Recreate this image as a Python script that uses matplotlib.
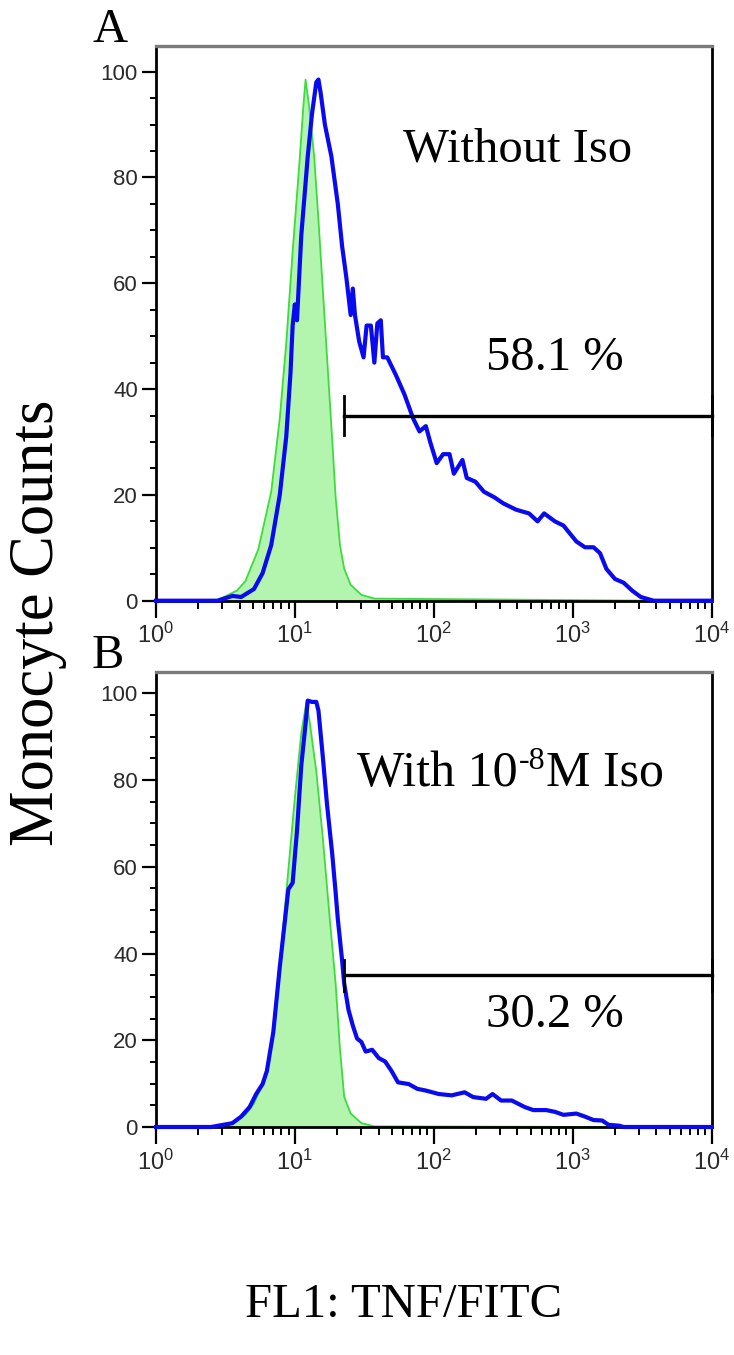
import numpy as np
import matplotlib
matplotlib.use("Agg")
import matplotlib.pyplot as plt
from matplotlib.ticker import LogLocator, MultipleLocator, NullFormatter, LogFormatterSciNotation

# ---------------- data ----------------
# Panel A (without Iso)
a_blue_x = [1.0, 2.77, 3.55, 4.10, 5.07, 5.85, 6.75, 7.78, 8.66, 9.29, 9.63, 9.98, 10.35, 11.11, 12.37,
            13.27, 14.25, 14.77, 15.31, 16.43, 18.29, 20.35, 21.86, 23.47, 25.19, 26.1, 27.05,
            29.0, 31.2, 32.8, 35.2, 37.3, 39.2, 41.5, 43.0, 46.2, 53.2, 61.4, 70.8, 78.8, 87.6, 94.1,
            104.8, 116.6, 129.7, 139.3, 160.6, 172.5, 198.9, 229.3, 274.2, 316, 391, 484, 558, 622,
            743, 857, 1061, 1223, 1410, 1570, 1747, 2014, 2322, 2677, 3088, 3823, 10000]
a_blue_y = [0, 0, 0.9, 0.7, 2.2, 5.2, 10.5, 20, 31, 43, 52, 56, 53, 69, 84,
            92, 98, 98.5, 96, 90, 84, 75, 67, 61, 54, 59, 54,
            49, 46, 52, 52, 45, 52.4, 53, 46, 46, 42.7, 39, 34.5, 32, 33, 30,
            26, 27.7, 27.7, 24, 26.6, 23.2, 22.5, 20.6, 19.5, 18.4, 17.2, 16.5, 15, 16.5,
            15, 14.2, 11.2, 10.1, 10.1, 9, 6, 4.1, 3.4, 1.9, 0.7, 0, 0]
a_green_x = [2.67, 3.08, 3.82, 4.40, 5.45, 6.75, 7.78, 8.66, 9.63, 10.72, 11.51, 11.93, 12.63, 13.75,
             14.77, 15.86, 17.03, 18.29, 19.64, 21.09, 22.65, 25.19, 30.1, 37.3, 3823]
a_green_y = [0, 0.7, 1.9, 3.7, 9.7, 20.6, 34.5, 48.7, 66, 82, 93.6, 98.5, 93.6, 84,
             72, 59, 46, 33, 19.5, 10.5, 6, 3, 1.1, 0.4, 0]

# Panel B (with 1e-8 M Iso)
b_blue_x = [1.0, 2.49, 3.43, 3.55, 4.10, 4.72, 5.26, 5.85, 6.28, 6.99, 7.78, 8.35, 8.97, 9.63, 10.35,
            11.11, 11.93, 12.37, 13.27, 14.25, 14.77, 15.86, 17.03, 18.55, 19.64, 20.35, 21.86, 22.65,
            24.3, 26.1, 28.0, 30.1, 32.3, 36.0, 40.1, 44.6, 49.6, 55.2, 65.9, 76.0, 87.6, 108.6,
            134.4, 166.4, 191.9, 237.6, 264.4, 304.9, 364.1, 451, 520, 644, 743, 857, 1061, 1223,
            1410, 1626, 1811, 2161, 2322, 10000]
b_blue_y = [0, 0, 0.8, 0.9, 2.4, 4.6, 7.6, 9.9, 12.9, 21.9, 36.9, 45.8, 54.8, 56.3, 68.3,
            83.3, 93, 98.3, 98, 98, 96, 85.5, 74.3, 63, 54, 48, 38.4, 33,
            27, 23.4, 20.4, 19.6, 17.4, 17.8, 15.9, 15.1, 12.9, 10.3, 9.9, 8.8, 8.4, 7.6,
            7.3, 8.0, 6.9, 6.5, 7.6, 6.1, 6.1, 4.6, 3.9, 3.9, 3.5, 2.8, 3.1, 2.4,
            1.6, 1.5, 0.5, 0.3, 0, 0]
b_green_x = [3.08, 3.55, 4.40, 5.07, 5.85, 6.51, 7.24, 8.06, 8.97, 9.98, 11.11, 12.10, 12.82, 14.25,
             15.86, 17.63, 19.64, 21.09, 22.65, 25.19, 30.1, 37.3, 2322]
b_green_y = [0, 0.9, 2.8, 5.4, 9.9, 14.4, 27, 42.8, 59.3, 75.8, 90.8, 98, 93, 82,
             66.8, 49.6, 33, 18, 6.9, 3.1, 0.9, 0.15, 0]

panel_letters = ["A", "B"]
condition_a = "Without Iso"
condition_b_parts = ["With 10", "-8", "M Iso"]
gate_percent = ["58.1 %", "30.2 %"]
gate_start = [22.6, 22.6]
gate_end = [10000, 10000]
gate_level = [35, 35]
x_label = "FL1: TNF/FITC"
y_label = "Monocyte Counts"

# ---------------- style ----------------
plt.rcParams['mathtext.fontset'] = 'custom'
plt.rcParams['mathtext.rm'] = 'Liberation Sans'
plt.rcParams['mathtext.it'] = 'Liberation Sans:italic'
plt.rcParams['font.family'] = ['Liberation Sans', 'DejaVu Sans']

W, H = 734, 1355
fig = plt.figure(figsize=(W / 100, H / 100), dpi=100)

def fx(px):
    return px / W

def fy(py):
    return 1 - py / H

axes_px = [(156, 45.7, 711.7, 600.7), (156, 672, 711.7, 1127)]

BLUE = "#0a0af0"
GREEN_EDGE = "#3ddc3d"
GREEN_FILL = "#b3f5ae"
SERIF = ['Liberation Serif', 'DejaVu Serif']

panels = [
    (a_blue_x, a_blue_y, a_green_x, a_green_y),
    (b_blue_x, b_blue_y, b_green_x, b_green_y),
]

for i, (l, t, r, b) in enumerate(axes_px):
    ax = fig.add_axes([fx(l), fy(b), fx(r) - fx(l), fy(t) - fy(b)])
    bx, by, gx, gy = panels[i]
    ax.fill_between(gx, 0, gy, facecolor=GREEN_FILL, edgecolor='none', zorder=1)
    ax.plot(gx, gy, color=GREEN_EDGE, lw=1.3, zorder=2, clip_on=False)
    ax.plot(bx, by, color=BLUE, lw=3.0, zorder=4, clip_on=False, solid_joinstyle='round')

    # gate bar
    ax.plot([gate_start[i], gate_end[i]], [gate_level[i], gate_level[i]], color='black', lw=2.4,
            zorder=5, clip_on=False)
    for gxv in (gate_start[i], gate_end[i]):
        ax.plot([gxv, gxv], [gate_level[i] - 3.6, gate_level[i] + 3.6], color='black', lw=2.0,
                zorder=5, clip_on=False)

    ax.set_xscale('log')
    ax.set_xlim(1, 10000)
    ax.set_ylim(0, 104.9)
    ax.xaxis.set_major_locator(LogLocator(base=10, numticks=10))
    ax.xaxis.set_minor_locator(LogLocator(base=10, subs=np.arange(2, 10), numticks=20))
    ax.xaxis.set_minor_formatter(NullFormatter())
    ax.xaxis.set_major_formatter(LogFormatterSciNotation())
    ax.yaxis.set_major_locator(MultipleLocator(20))
    ax.yaxis.set_minor_locator(MultipleLocator(5))

    ax.tick_params(axis='both', which='major', direction='out', width=1.6, colors='black',
                   labelcolor='#2a2a2a', labelsize=16)
    ax.tick_params(axis='y', which='major', length=10, pad=3)
    ax.tick_params(axis='x', which='major', length=12, pad=4, labelsize=17)
    ax.tick_params(axis='y', which='minor', direction='out', length=4, width=1.4)
    ax.tick_params(axis='x', which='minor', direction='out', length=6, width=1.4)

    for side in ('left', 'bottom', 'right'):
        ax.spines[side].set_linewidth(2.0)
        ax.spines[side].set_color('black')
    ax.spines['top'].set_linewidth(2.4)
    ax.spines['top'].set_color('#7a7a7a')

for i, (cx, cy) in enumerate([(110, 30), (108, 656)]):
    fig.text(fx(cx), fy(cy), panel_letters[i], ha='center', va='center', fontsize=35,
             family=SERIF)

fig.text(fx(518), fy(150), condition_a, ha='center', va='center', fontsize=35, family=SERIF)

# "With 10^-8 M Iso" built from three text pieces placed side by side
renderer = fig.canvas.get_renderer()
x0, base = 357, 786
t1 = fig.text(fx(x0), fy(base), condition_b_parts[0], ha='left', va='baseline', fontsize=36,
              family=SERIF)
x1 = t1.get_window_extent(renderer).x1
t2 = fig.text((x1 + 1) / W, fy(base - 17), condition_b_parts[1], ha='left', va='baseline',
              fontsize=23, family=SERIF)
x2 = t2.get_window_extent(renderer).x1
fig.text((x2 + 1) / W, fy(base), condition_b_parts[2], ha='left', va='baseline', fontsize=36,
         family=SERIF)

fig.text(fx(555), fy(358), gate_percent[0], ha='center', va='center', fontsize=35, family=SERIF)
fig.text(fx(555), fy(1015), gate_percent[1], ha='center', va='center', fontsize=35, family=SERIF)

fig.text(fx(38), fy(623), y_label, ha='center', va='center', rotation=90, fontsize=45, family=SERIF)
fig.text(fx(404), fy(1305), x_label, ha='center', va='center', fontsize=35, family=SERIF)

fig.savefig("out.png", dpi=100)
